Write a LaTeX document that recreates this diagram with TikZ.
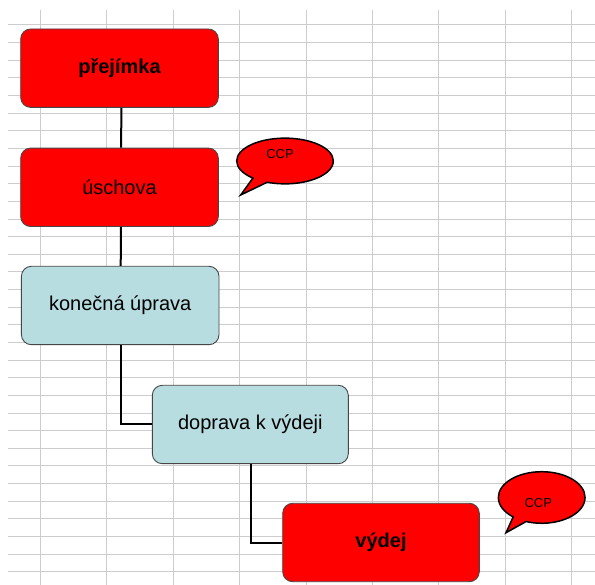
\documentclass[tikz,border=0pt]{standalone}
\usepackage{fontspec}
\setmainfont{Liberation Sans}
\usetikzlibrary{shapes.callouts}
\definecolor{boxred}{RGB}{255,0,0}
\definecolor{boxblue}{RGB}{183,221,225}
\definecolor{gridgray}{RGB}{205,205,205}
\definecolor{boxedge}{RGB}{70,70,70}
\begin{document}
\begin{tikzpicture}[x=1pt,y=-1pt,
  stepbox/.style={draw=boxedge, line width=0.9pt, rounded corners=10pt, minimum width=197.6pt, minimum height=78.4pt, inner sep=0pt, font=\fontsize{20}{22}\selectfont},
  redbox/.style={stepbox, fill=boxred},
  bluebox/.style={stepbox, fill=boxblue},
  link/.style={draw=black, line width=2pt},
  ccp/.style={ellipse callout, draw=black, fill=boxred, line width=1.5pt, inner sep=0pt, callout pointer arc=20},
  ccptext/.style={font=\fontsize{13}{14}\selectfont, inner sep=0pt},
  gridline/.style={draw=gridgray, line width=1pt}]
\useasboundingbox (0,0) rectangle (595,585);
\fill[white] (0,0) rectangle (595,585);
% grid
\foreach \k in {0,...,31} \draw[gridline] (8,{25+17.64*\k}) -- (595,{25+17.64*\k});
\foreach \k in {0,...,8} \draw[gridline] ({40.5+66.38*\k},10) -- ({40.5+66.38*\k},585);
% boxes
\node[redbox, font=\fontsize{20}{22}\selectfont\bfseries] (p1) at (119.5,68.2) {přejímka};
\node[redbox] (p2) at (119.5,187.3) {úschova};
\node[bluebox] (p3) at (120.2,305.5) {konečná úprava};
\node[bluebox, minimum width=196pt] (p4) at (250.3,424.5) {doprava k výdeji};
\node[redbox, minimum width=196.6pt, font=\fontsize{20}{22}\selectfont\bfseries] (p5) at (381,542.5) {výdej};
% connectors
\draw[link] ([xshift=2pt]p1.south) -- ([xshift=1.5pt]p2.north);
\draw[link] ([xshift=1.5pt]p2.south) -- ([xshift=0.5pt]p3.north);
\draw[link] ([xshift=0.5pt]p3.south) |- (p4.west);
\draw[link] ([xshift=0.4pt]p4.south) |- (p5.west);
% callouts
\node[ccp, minimum width=96.6pt, minimum height=45.7pt, callout absolute pointer={(240.7,195)}] (c1) at (285,161) {};
\node[ccptext] (t1) at (280,154) {CCP};
\node[ccp, minimum width=86.7pt, minimum height=51.6pt, callout absolute pointer={(506,532.7)}] (c2) at (541.7,497.5) {};
\node[ccptext] (t2) at (538.3,502.7) {CCP};
\end{tikzpicture}
\end{document}
